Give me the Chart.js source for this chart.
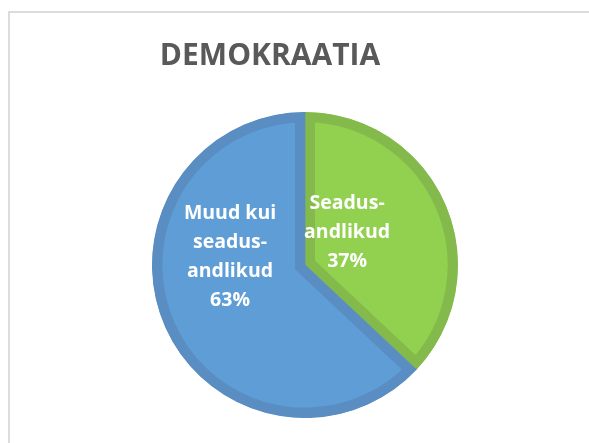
<!DOCTYPE html>
<html><head><meta charset="utf-8">
<script src="https://cdn.jsdelivr.net/npm/chart.js@4.4.0/dist/chart.umd.min.js"></script>
<style>
html,body{margin:0;padding:0;background:#fff;width:589px;height:443px;overflow:hidden}
#frame{position:absolute;left:8px;top:11px;width:700px;height:600px;border:2px solid #dcdcdc;box-sizing:border-box}
#c{position:absolute;left:0;top:0}
</style></head><body>
<div id="frame"></div>
<canvas id="c" width="589" height="443"></canvas>
<script>
const chartTitle = 'DEMOKRAATIA';
const categories = ['Seadus-andlikud', 'Muud kui seadus-andlikud'];
const labelLines = [['Seadus-', 'andlikud'], ['Muud kui', 'seadus-', 'andlikud']];
const shares = [37, 63];
const fillColors = ['#92D050', '#5E9DD6'];
const borderColors = ['#83BA4B', '#5A8DC1'];

// label anchor, as fraction of the pie radius from its centre (style only)
const labelAnchors = [[0.275, -0.21], [-0.49, -0.055]];

const shiftTitle = {
  id: 'shiftTitle',
  afterLayout(chart) {
    const t = chart.titleBlock;
    if (t) { t.left -= 35; t.right -= 35; }
  }
};

const sliceLabels = {
  id: 'sliceLabels',
  afterDatasetsDraw(chart) {
    const ctx = chart.ctx;
    const meta = chart.getDatasetMeta(0);
    ctx.save();
    ctx.fillStyle = '#ffffff';
    ctx.font = 'bold 19.5px "Open Sans", sans-serif';
    ctx.textAlign = 'center';
    ctx.textBaseline = 'middle';
    meta.data.forEach((arc, i) => {
      const p = arc.getProps(['x', 'y', 'outerRadius'], true);
      const lines = labelLines[i].concat([shares[i] + '%']);
      const cx = p.x + labelAnchors[i][0] * p.outerRadius;
      const cy = p.y + labelAnchors[i][1] * p.outerRadius;
      const lh = 29;
      const y0 = cy - (lines.length - 1) * lh / 2;
      lines.forEach((ln, k) => ctx.fillText(ln, cx, y0 + k * lh));
    });
    ctx.restore();
  }
};

new Chart(document.getElementById('c'), {
  type: 'pie',
  data: {
    labels: categories,
    datasets: [{
      data: shares,
      backgroundColor: fillColors,
      borderColor: borderColors,
      borderWidth: 10,
      borderAlign: 'inner',
      borderJoinStyle: 'miter',
      hoverOffset: 0
    }]
  },
  options: {
    responsive: false,
    animation: false,
    events: [],
    radius: 153,
    layout: { padding: { top: 10, bottom: 13, left: 145, right: 124 } },
    plugins: {
      legend: { display: false },
      tooltip: { enabled: false },
      title: {
        display: true,
        text: chartTitle,
        color: '#595959',
        font: { family: '"Open Sans", sans-serif', size: 30, weight: 'bold', lineHeight: 1.2 },
        padding: { top: 28, bottom: 26 }
      }
    }
  },
  plugins: [shiftTitle, sliceLabels]
});
</script>
</body></html>
